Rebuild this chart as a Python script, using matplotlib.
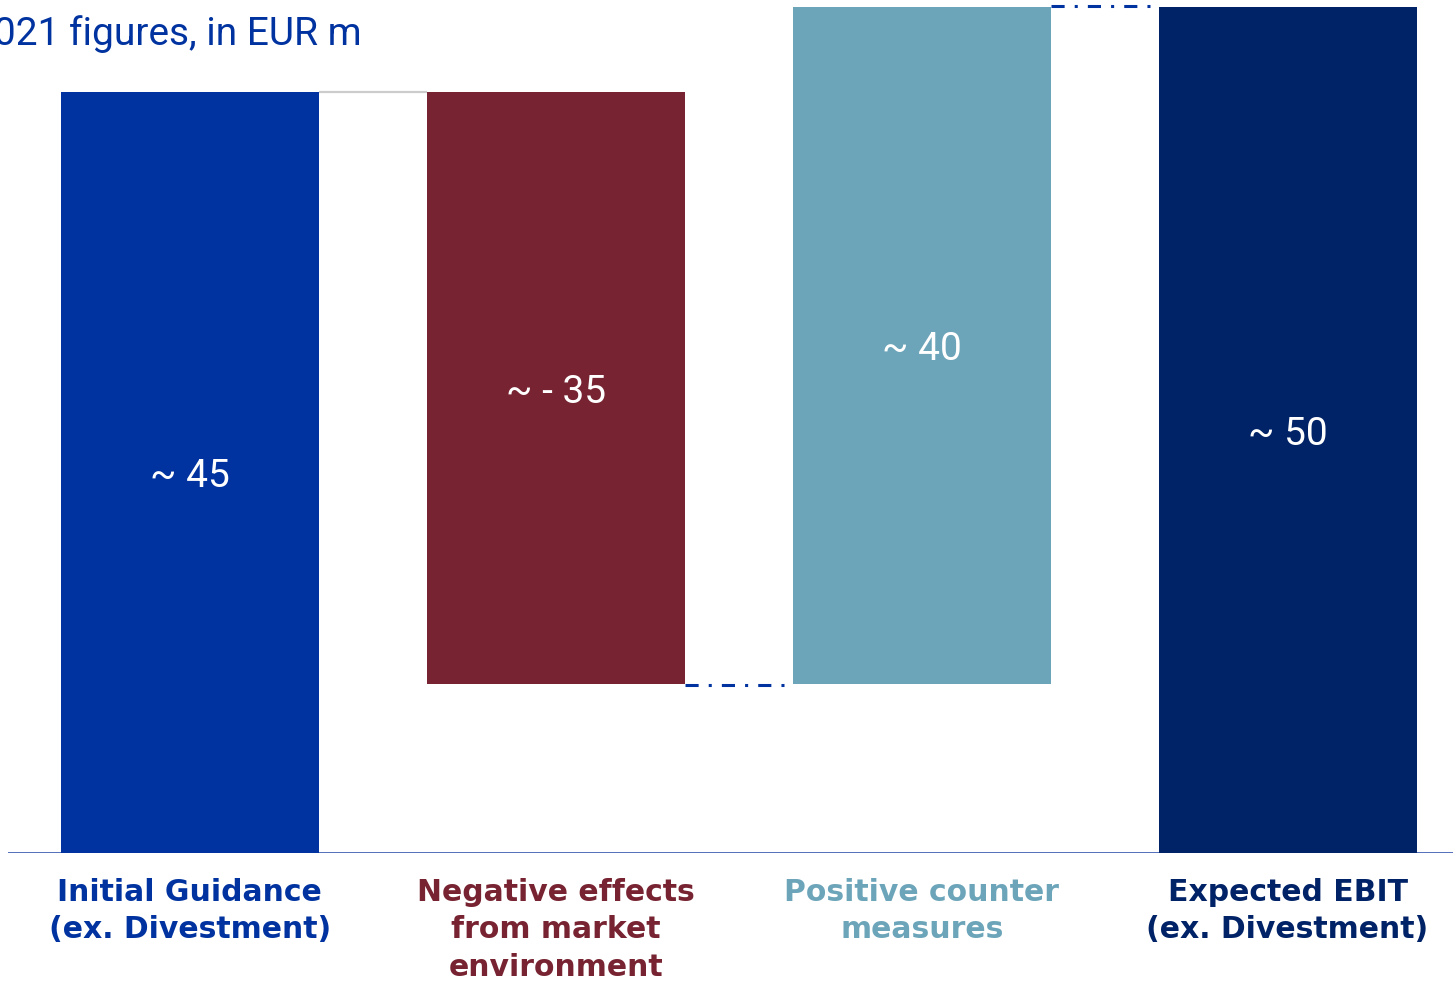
import matplotlib
matplotlib.use("Agg")
import matplotlib.pyplot as plt

# Waterfall of the 2021 EBIT bridge (EUR m)
categories = ["Initial Guidance\n(ex. Divestment)",
              "Negative effects\nfrom market\nenvironment",
              "Positive counter\nmeasures",
              "Expected EBIT\n(ex. Divestment)"]
steps = [45, -35, 40]          # start value, then deltas
total = 50
value_labels = ["~ 45", "~ - 35", "~ 40", "~ 50"]
colors = ["#0033A0", "#772331", "#6CA5B9", "#002266"]

# bar bottoms / heights from the running sum
bottoms, heights = [], []
running = 0
for i, s in enumerate(steps):
    if s >= 0:
        bottoms.append(running)
        heights.append(s)
    else:
        bottoms.append(running + s)
        heights.append(-s)
    running += s
bottoms.append(0)
heights.append(total)

plt.rcParams['font.family'] = ['Roboto', 'DejaVu Sans']

fig = plt.figure(figsize=(14.53, 9.82), dpi=100)
ax = fig.add_axes([8 / 1453, (982 - 853) / 982, (1453 - 8) / 1453, 853 / 982])

x = list(range(len(categories)))
width = 0.705
ax.bar(x, heights, bottom=bottoms, width=width, color=colors, zorder=2)

# value labels in the middle of each bar
for xi, b, h, lab in zip(x, bottoms, heights, value_labels):
    ax.annotate(lab, xy=(xi, b + h / 2), xytext=(0, -3),
                textcoords='offset points', ha='center', va='center',
                color='white', fontsize=28, zorder=3)

# connectors between bars
half = width / 2
ax.plot([x[0] + half, x[1] - half], [45, 45], color="#cccccc", lw=1.6,
        solid_capstyle='butt', zorder=1)
dashdot = (0, (4.3, 3.3, 1.0, 3.3))
ax.plot([x[1] + half, x[2] - half], [10 - 0.08, 10 - 0.08], color="#0033A0",
        lw=2.2, linestyle=dashdot, zorder=1)
ax.plot([x[2] + half, x[3] - half], [50 + 0.1, 50 + 0.1], color="#0033A0",
        lw=2.2, linestyle=dashdot, zorder=1)

ax.set_xlim(-0.497, 3.452)
ax.set_ylim(0, 50.44)
ax.axhline(0, color="#1f44a8", lw=1.8, zorder=1)
for sp in ax.spines.values():
    sp.set_visible(False)
ax.set_yticks([])
ax.set_xticks([])

# category labels under the axis
for xi, lab, c in zip(x, categories, colors):
    ax.annotate(lab, xy=(xi, 0), xycoords='data', xytext=(0, -18),
                textcoords='offset points', ha='center', va='top',
                color=c, fontsize=21.5, fontweight='bold', linespacing=1.36,
                family='DejaVu Sans')

fig.text(362 / 1453, 1 - 45 / 982, "2021 figures, in EUR m", ha='right',
         va='baseline', color="#0033A0", fontsize=28)

fig.savefig("out.png", dpi=100)
